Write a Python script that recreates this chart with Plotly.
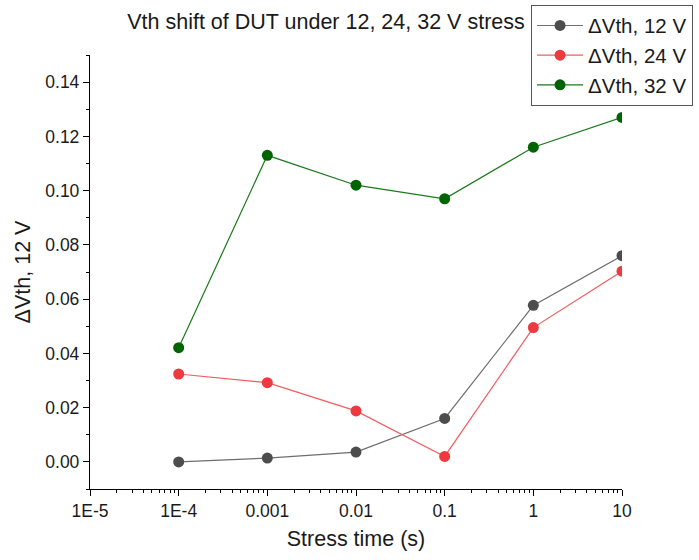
import plotly.graph_objects as go

# Stress times (s) and threshold-voltage shifts (V)
stress_time = [1e-4, 1e-3, 1e-2, 1e-1, 1, 10]
dvth_12v = [0.0000, 0.0014, 0.0036, 0.0160, 0.0577, 0.0760]
dvth_24v = [0.0324, 0.0292, 0.0188, 0.0020, 0.0495, 0.0703]
dvth_32v = [0.0421, 0.1130, 0.1020, 0.0970, 0.1160, 0.1270]

series_names = ["\u0394Vth, 12 V", "\u0394Vth, 24 V", "\u0394Vth, 32 V"]
marker_colors = ["#4d4d4d", "#ee3a3e", "#006400"]
line_colors = ["#6e6e6e", "#f25c5f", "#1a7a1a"]

x_tick_vals = [1e-5, 1e-4, 1e-3, 1e-2, 1e-1, 1, 10]
x_tick_text = ["1E-5", "1E-4", "0.001", "0.01", "0.1", "1", "10"]
y_tick_vals = [0.00, 0.02, 0.04, 0.06, 0.08, 0.10, 0.12, 0.14]
y_tick_text = ["0.00", "0.02", "0.04", "0.06", "0.08", "0.10", "0.12", "0.14"]

FONT = "Liberation Sans, Arial, sans-serif"
TEXT = "#1a1a1a"

fig = go.Figure()
for ys, name, mc, lc in zip([dvth_12v, dvth_24v, dvth_32v], series_names, marker_colors, line_colors):
    fig.add_trace(go.Scatter(
        x=stress_time, y=ys, name=name, mode="lines+markers",
        line=dict(color=lc, width=1.2),
        marker=dict(color=mc, size=11),
    ))

fig.update_layout(
    width=699, height=560,
    margin=dict(l=90, r=77, t=55, b=71, autoexpand=False),
    paper_bgcolor="white", plot_bgcolor="white",
    font=dict(family=FONT, color=TEXT),
    title=dict(text="Vth shift of DUT under 12, 24, 32 V stress",
               x=(326 / 699), xanchor="center", y=1 - 21 / 560, yanchor="middle",
               font=dict(size=21.5, family=FONT, color=TEXT)),
    legend=dict(x=0.829, y=1.116, xanchor="left", yanchor="top",
                bordercolor="#555555", borderwidth=1, bgcolor="white",
                font=dict(size=20.5, family=FONT, color=TEXT),
                tracegroupgap=0, itemwidth=46),
    showlegend=True,
)

fig.update_xaxes(
    type="log", range=[-5, 1],
    tickvals=x_tick_vals, ticktext=x_tick_text,
    ticks="outside", ticklen=6, tickwidth=1, tickcolor="black",
    showline=True, linecolor="black", linewidth=1.3,
    showgrid=False, zeroline=False,
    tickfont=dict(size=17.5, family=FONT, color=TEXT),
    title=dict(text="Stress time (s)", font=dict(size=21.5, family=FONT, color=TEXT), standoff=10),
    minor=dict(ticks="outside", ticklen=3, tickcolor="black", showgrid=False,
               tickvals=[m * 10 ** e for e in range(-5, 1) for m in range(2, 10)]),
)

fig.update_yaxes(
    range=[-0.01, 0.15],
    tickvals=y_tick_vals, ticktext=y_tick_text,
    ticks="outside", ticklen=6, tickwidth=1, tickcolor="black",
    showline=True, linecolor="black", linewidth=1.3,
    showgrid=False, zeroline=False,
    tickfont=dict(size=17.5, family=FONT, color=TEXT),
    title=dict(text="\u0394Vth, 12 V", font=dict(size=21.5, family=FONT, color=TEXT), standoff=8),
    minor=dict(ticks="outside", ticklen=3, tickcolor="black", showgrid=False,
               tickvals=[-0.01, 0.01, 0.03, 0.05, 0.07, 0.09, 0.11, 0.13, 0.15]),
)

fig.write_html("out.html")
